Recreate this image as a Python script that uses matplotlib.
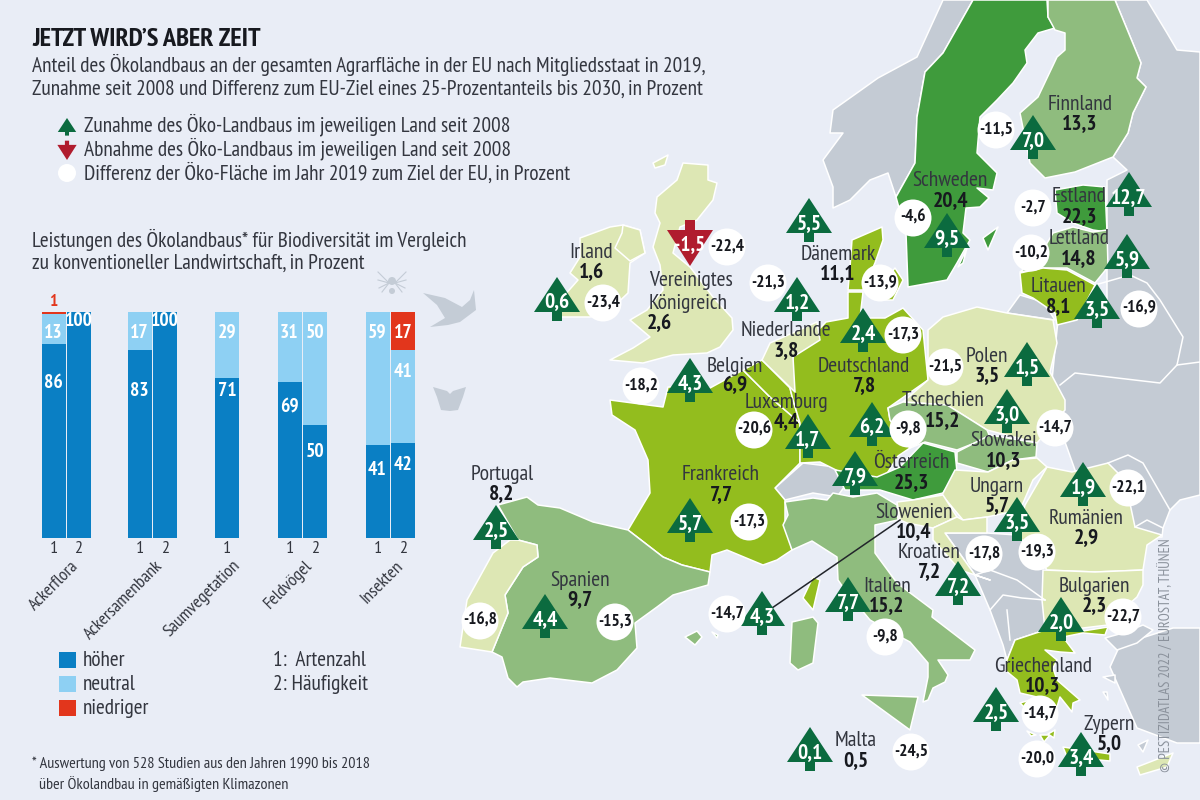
import matplotlib
matplotlib.use("Agg")
import logging
import matplotlib.pyplot as plt
from matplotlib.patches import Polygon, Circle, Rectangle

logging.getLogger('matplotlib.font_manager').setLevel(logging.ERROR)
plt.rcParams['font.family'] = ['PT Sans Narrow', 'Fira Sans Condensed', 'Roboto', 'DejaVu Sans']

BG = '#e9edf6'
GREY = '#c4cbd4'
PALE = '#dde7b4'
LIME = '#93bd1e'
MID = '#8fbc7e'
DARK = '#3f9b3c'
TREE = '#0b6b3f'
RED = '#b01c2e'
TXT = '#33363f'
VAL = '#17191f'

# bar chart values, in percent
groups = ['Ackerflora', 'Ackersamenbank', 'Saumvegetation', 'Feldvögel', 'Insekten']
bar_group = [0, 0, 1, 1, 2, 3, 3, 4, 4]
bar_tick = ['1', '2', '1', '2', '1', '1', '2', '1', '2']
hoeher = [86, 100, 83, 100, 71, 69, 50, 41, 42]
neutral = [13, 0, 17, 0, 29, 31, 50, 59, 41]
niedriger = [1, 0, 0, 0, 0, 0, 0, 0, 17]

# map values, in percent (None: no circle, target already reached)
countries = ['Portugal', 'Spanien', 'Frankreich', 'Irland', 'Vereinigtes\nKönigreich', 'Belgien',
             'Niederlande', 'Luxemburg', 'Dänemark', 'Deutschland', 'Tschechien', 'Österreich',
             'Schweden', 'Finnland', 'Estland', 'Lettland', 'Litauen', 'Polen', 'Slowakei',
             'Ungarn', 'Rumänien', 'Slowenien', 'Kroatien', 'Italien', 'Bulgarien',
             'Griechenland', 'Malta', 'Zypern']
share = [8.2, 9.7, 7.7, 1.6, 2.6, 6.9, 3.8, 4.4, 11.1, 7.8, 15.2, 25.3, 20.4, 13.3, 22.3, 14.8,
         8.1, 3.5, 10.3, 5.7, 2.9, 10.4, 7.2, 15.2, 2.3, 10.3, 0.5, 5.0]
change = [2.5, 4.4, 5.7, 0.6, -1.5, 4.3, 1.2, 1.7, 5.5, 2.4, 6.2, 7.9, 9.5, 7.0, 12.7, 5.9,
          3.5, 1.5, 3.0, 3.5, 1.9, 4.3, 7.2, 7.7, 2.0, 2.5, 0.1, 3.4]
gap = [-16.8, -15.3, -17.3, -23.4, -22.4, -18.2, -21.3, -20.6, -13.9, -17.3, -9.8, None, -4.6,
       -11.5, -2.7, -10.2, -16.9, -21.5, -14.7, -19.3, -22.1, -14.7, -17.8, -9.8, -22.7, -14.7,
       -24.5, -20.0]

# layout in pixels: label centre, tree tip, circle centre
label_xy = [(502, 474), (580, 580), (721, 475), (591, 253), (649, 292), (735, 366), (786, 331),
            (786, 402), (838, 254), (864, 366), (943, 401), (911, 463), (950, 181), (1080, 104),
            (1079, 197), (1079, 239), (1059, 287), (987, 356), (1004, 441), (997, 486),
            (1086, 518), (914, 512), (929, 552), (887, 586), (1094, 586), (1043, 666), (856, 741),
            (1109, 724)]
tree_xy = [(496, 505), (545, 594), (690, 498), (557, 277), (690, 266), (690, 358), (797, 277),
           (808, 414), (809, 198), (863, 308), (872, 402), (855, 451), (947, 213), (1033, 115),
           (1129, 172), (1127, 234), (1097, 284), (1027, 342), (1007, 389), (1017, 497),
           (1083, 462), (762, 591), (958, 561), (848, 577), (1061, 597), (996, 687), (810, 727),
           (1081, 732)]
circle_xy = [(480, 621), (615, 622), (749, 522), (603, 303), (727, 247), (641, 386), (768, 283),
             (754, 430), (880, 283), (903, 335), (908, 429), None, (913, 218), (996, 130),
             (1033, 208), (1031, 253), (1139, 309), (945, 367), (1055, 428), (1037, 552),
             (1128, 488), (727, 614), (984, 554), (885, 637), (1123, 617), (1040, 714), (911, 752),
             (1037, 759)]

# country outlines, traced in pixels
shapes = [
    (GREY, [(943, 0), (917, 57), (878, 78), (833, 110), (830, 133), (843, 133), (823, 160), (833, 187),
            (833, 208), (850, 200), (870, 180), (888, 173), (896, 197), (915, 163), (917, 117), (925, 72),
            (943, 53), (973, 0)]),
    (GREY, [(1115, 0), (1147, 0), (1167, 33), (1177, 50), (1200, 52), (1200, 495), (1180, 500), (1170, 510),
            (1163, 528), (1162, 537), (1100, 540), (1050, 400), (1060, 300), (1107, 300), (1107, 180),
            (1127, 170), (1113, 157), (1128, 133), (1133, 113), (1146, 87), (1137, 78), (1141, 63)]),
    (GREY, [(1007, 313), (1020, 295), (1043, 302), (1055, 320)]),
    (GREY, [(945, 533), (987, 533), (1017, 535), (1037, 555), (1047, 570), (1045, 600), (1045, 630),
            (1015, 640), (1007, 660), (1003, 645), (990, 610), (975, 575)]),
    (GREY, [(1110, 667), (1120, 645), (1173, 628), (1200, 628), (1200, 743), (1177, 743), (1137, 728)]),
    (GREY, [(1105, 638), (1123, 633), (1143, 625), (1153, 630), (1137, 643), (1117, 650)]),
    (GREY, [(1103, 677), (1115, 675), (1115, 683)]),
    (GREY, [(1103, 692), (1107, 692), (1108, 700)]),
    (GREY, [(1138, 745), (1148, 740), (1143, 752)]),
    (GREY, [(775, 488), (803, 463), (835, 467), (847, 483), (837, 497), (813, 493), (785, 500)]),
    (DARK, [(973, 0), (1047, 0), (1048, 17), (1055, 28), (1038, 33), (1025, 50), (1027, 63), (1013, 83),
            (997, 100), (980, 117), (977, 153), (997, 173), (993, 190), (977, 188), (989, 198), (980, 207),
            (966, 208), (963, 233), (970, 240), (957, 263), (947, 280), (908, 287), (906, 233), (896, 197),
            (915, 163), (917, 117), (925, 72), (943, 53)]),
    (DARK, [(983, 238), (998, 227), (988, 250)]),
    (DARK, [(958, 267), (967, 248), (963, 263)]),
    (MID, [(1048, 0), (1115, 0), (1141, 63), (1137, 78), (1146, 87), (1133, 113), (1128, 133), (1113, 157),
           (1075, 172), (1045, 178), (1030, 163), (1020, 113), (1038, 97), (1057, 57), (1065, 50), (1065, 33),
           (1055, 30), (1048, 17)]),
    (DARK, [(1055, 190), (1083, 185), (1105, 187), (1107, 232), (1093, 230), (1073, 223), (1057, 213)]),
    (MID, [(1020, 272), (1040, 255), (1053, 233), (1073, 227), (1093, 232), (1107, 230), (1108, 267),
           (1095, 283), (1067, 268), (1043, 268)]),
    (LIME, [(1020, 273), (1043, 268), (1067, 270), (1095, 285), (1077, 320), (1057, 325), (1055, 313),
            (1033, 298), (1022, 293)]),
    (LIME, [(852, 240), (882, 227), (883, 240), (875, 263), (863, 290), (848, 290), (850, 267)]),
    (LIME, [(878, 290), (895, 268), (903, 280), (893, 300), (880, 300)]),
    (PALE, [(683, 163), (708, 165), (708, 180), (717, 183), (713, 200), (697, 220), (680, 227), (673, 253),
            (690, 267), (713, 297), (732, 318), (733, 330), (720, 347), (707, 353), (673, 355), (643, 363),
            (610, 360), (633, 348), (650, 337), (630, 320), (647, 310), (663, 290), (660, 265), (653, 247),
            (660, 223), (655, 213), (657, 197), (677, 180)]),
    (PALE, [(653, 163), (668, 155), (665, 165), (655, 168)]),
    (PALE, [(580, 238), (610, 227), (623, 225), (640, 230), (645, 253), (630, 263), (628, 293), (607, 313),
            (590, 317), (560, 317), (563, 297), (578, 280), (570, 273), (580, 257)]),
    (PALE, [(623, 225), (640, 230), (645, 253), (630, 261), (615, 248), (622, 233)]),
    (LIME, [(610, 400), (663, 407), (668, 387), (710, 388), (743, 370), (770, 397), (800, 423), (800, 463),
            (775, 488), (785, 500), (785, 520), (792, 550), (777, 560), (763, 565), (727, 550), (712, 555),
            (710, 572), (682, 565), (663, 557), (628, 530), (650, 493), (648, 460), (635, 430), (612, 415)]),
    (LIME, [(743, 370), (762, 360), (790, 388), (793, 400), (800, 423), (770, 397)]),
    (LIME, [(793, 357), (826, 322), (848, 318), (848, 292), (863, 292), (860, 318), (885, 318), (903, 308),
            (923, 330), (925, 350), (928, 380), (888, 408), (890, 420), (910, 448), (898, 456), (878, 488),
            (840, 472), (820, 462), (800, 463), (800, 423), (793, 400), (790, 388)]),
    (PALE, [(762, 360), (770, 343), (817, 322), (820, 340), (793, 357), (795, 392)]),
    (PALE, [(928, 330), (943, 317), (977, 307), (1007, 313), (1053, 320), (1057, 343), (1050, 372), (1065, 400),
            (1065, 410), (1037, 443), (987, 430), (960, 413), (947, 405), (903, 402), (928, 380)]),
    (MID, [(888, 408), (903, 402), (947, 405), (960, 413), (987, 430), (990, 437), (957, 450), (925, 442),
           (910, 448), (890, 420)]),
    (MID, [(957, 452), (990, 435), (1037, 443), (1036, 457), (1013, 460), (988, 472), (957, 463)]),
    (DARK, [(835, 470), (877, 477), (900, 467), (923, 443), (955, 452), (957, 472), (943, 493), (913, 500),
            (880, 490), (845, 490)]),
    (PALE, [(955, 470), (988, 472), (1013, 460), (1037, 458), (1047, 467), (1033, 480), (1020, 510), (987, 517),
            (963, 520), (942, 495)]),
    (PALE, [(1047, 467), (1072, 472), (1108, 463), (1125, 480), (1135, 527), (1162, 535), (1147, 545),
            (1143, 570), (1095, 572), (1047, 570), (1037, 555), (1017, 535), (1025, 505)]),
    (PALE, [(897, 502), (913, 500), (943, 495), (957, 517), (933, 528), (907, 523), (900, 520)]),
    (PALE, [(933, 528), (957, 517), (963, 520), (987, 517), (987, 533), (945, 533), (975, 575), (990, 580),
            (960, 570), (933, 540)]),
    (PALE, [(1043, 570), (1095, 572), (1143, 570), (1143, 585), (1137, 597), (1120, 612), (1108, 625),
            (1083, 628), (1063, 630), (1045, 630), (1042, 600)]),
    (MID, [(785, 502), (813, 498), (827, 500), (833, 493), (853, 497), (877, 493), (897, 505), (898, 520),
           (875, 525), (875, 553), (897, 583), (933, 610), (932, 617), (975, 650), (970, 660), (938, 660),
           (948, 675), (945, 682), (933, 688), (928, 700), (923, 702), (928, 677), (928, 663), (910, 642),
           (893, 633), (870, 620), (845, 590), (838, 580), (837, 557), (812, 541), (792, 550), (783, 525),
           (788, 515)]),
    (MID, [(862, 695), (918, 697), (910, 730)]),
    (MID, [(792, 622), (813, 617), (818, 623), (813, 663), (798, 670), (790, 663)]),
    (LIME, [(813, 577), (820, 580), (813, 610), (803, 598)]),
    (MID, [(498, 505), (527, 497), (538, 505), (560, 508), (593, 522), (628, 530), (663, 557), (682, 565),
           (710, 572), (708, 585), (673, 595), (657, 607), (635, 623), (637, 648), (617, 670), (592, 683),
           (550, 678), (523, 682), (517, 687), (508, 678), (502, 657), (492, 652), (508, 613), (505, 595),
           (523, 567), (538, 557), (537, 545), (518, 540)]),
    (PALE, [(510, 540), (518, 540), (537, 545), (538, 557), (523, 567), (505, 595), (508, 613), (492, 652),
            (460, 647), (467, 600), (493, 553)]),
    (MID, [(685, 637), (697, 631), (702, 637), (695, 645)]),
    (MID, [(712, 632), (718, 635), (717, 638)]),
    (LIME, [(1015, 640), (1045, 630), (1083, 631), (1108, 627), (1105, 635), (1083, 633), (1063, 637), (1075, 653),
            (1060, 652), (1045, 650), (1057, 660), (1053, 668), (1057, 680), (1080, 700), (1073, 703), (1072, 712),
            (1060, 697), (1057, 707), (1037, 697), (1020, 693), (1017, 680), (1005, 670), (1007, 660)]),
    (LIME, [(1020, 703), (1030, 700), (1025, 708)]),
    (LIME, [(1027, 731), (1036, 735), (1031, 736)]),
    (LIME, [(1040, 735), (1050, 735), (1044, 742)]),
    (LIME, [(1048, 734), (1055, 730), (1054, 738)]),
    (LIME, [(1063, 747), (1110, 754), (1110, 761), (1067, 757)]),
    (PALE, [(1137, 767), (1173, 753), (1167, 767), (1140, 775)]),
]

border_lines = [
    [(1060, 385), (1075, 373), (1160, 383), (1177, 365), (1200, 362)],
    [(1095, 285), (1130, 275), (1147, 283), (1160, 300), (1183, 337), (1177, 365)],
    [(1108, 463), (1128, 455), (1143, 463), (1170, 510)],
    [(1135, 527), (1147, 520), (1163, 528)],
    [(975, 575), (990, 570), (1017, 580), (1045, 600)],
    [(990, 610), (1003, 595), (1022, 598), (1045, 600)],
    [(1010, 640), (1007, 610)],
]

BODY = 15.4
NAME = 15.5
VALUE = 15.5


def tree(ax, x, y, s=1.0, color=TREE):
    w, h, tw, th = 23 * s, 35 * s, 5 * s, 9 * s
    ax.add_patch(Polygon([(x, y), (x + w, y + h), (x + tw, y + h), (x + tw, y + h + th), (x - tw, y + h + th),
                          (x - tw, y + h), (x - w, y + h)], fc=color, ec='none', zorder=6))


def arrow_down(ax, x, y, s=1.0, color=RED):
    w, h, tw, th = 23 * s, 36 * s, 5 * s, 10 * s
    ax.add_patch(Polygon([(x, y), (x + w, y - h), (x + tw, y - h), (x + tw, y - h - th), (x - tw, y - h - th),
                          (x - tw, y - h), (x - w, y - h)], fc=color, ec='none', zorder=6))


def comma(v):
    return f'{v:.1f}'.replace('.', ',')


fig = plt.figure(figsize=(12, 8), dpi=100, facecolor=BG)
ax = fig.add_axes([0, 0, 1, 1])
ax.set_xlim(0, 1200)
ax.set_ylim(800, 0)
ax.axis('off')

# map
for col, pts in shapes:
    ax.add_patch(Polygon(pts, fc=col, ec='white', lw=1.1, joinstyle='round', zorder=2))
for pts in border_lines:
    ax.plot([p[0] for p in pts], [p[1] for p in pts], color='white', lw=1.1, zorder=2.5)
ax.plot([772, 900], [608, 520], color='#22252b', lw=1.1, zorder=3)

for i, name in enumerate(countries):
    lx, ly = label_xy[i]
    if '\n' in name:
        ax.text(lx, ly, name, ha='left', va='center', fontsize=NAME, color=TXT, linespacing=1.3, zorder=5)
        ax.text(lx + 10, ly + 32, comma(share[i]), ha='center', va='center', fontsize=VALUE, weight='bold', color=VAL, zorder=5)
    else:
        ax.text(lx, ly, name, ha='center', va='center', fontsize=NAME, color=TXT, zorder=8)
        ax.text(lx, ly + 20, comma(share[i]), ha='center', va='center', fontsize=VALUE, weight='bold', color=VAL, zorder=8)

    tx, ty = tree_xy[i]
    if change[i] < 0:
        arrow_down(ax, tx, ty)
        ax.text(tx, ty - 21, comma(change[i]), ha='center', va='center', fontsize=15, weight='bold', color='white', zorder=7)
    else:
        tree(ax, tx, ty)
        ax.text(tx, ty + 26, comma(change[i]), ha='center', va='center', fontsize=VALUE, weight='bold', color='white', zorder=7)

    if gap[i] is not None:
        cx, cy = circle_xy[i]
        ax.add_patch(Circle((cx, cy), 18.5, fc='white', ec='none', zorder=7))
        ax.text(cx, cy, comma(gap[i]), ha='center', va='center', fontsize=12.5, weight='bold', color=VAL, zorder=9)

# header
ax.text(32, 40, 'JETZT WIRD’S ABER ZEIT', fontsize=19, weight='bold', color='#17191f', va='center')
ax.text(32, 65, 'Anteil des Ökolandbaus an der gesamten Agrarfläche in der EU nach Mitgliedsstaat in 2019,',
        fontsize=BODY, color=TXT, va='center')
ax.text(32, 89, 'Zunahme seit 2008 und Differenz zum EU-Ziel eines 25-Prozentanteils bis 2030, in Prozent',
        fontsize=BODY, color=TXT, va='center')

# map legend
tree(ax, 67, 118, s=0.4)
arrow_down(ax, 67, 160, s=0.42)
ax.add_patch(Circle((67, 173), 9, fc='white', ec='none'))
ax.text(84, 125, 'Zunahme des Öko-Landbaus im jeweiligen Land seit 2008', fontsize=BODY, color=TXT, va='center')
ax.text(84, 149, 'Abnahme des Öko-Landbaus im jeweiligen Land seit 2008', fontsize=BODY, color=TXT, va='center')
ax.text(84, 173, 'Differenz der Öko-Fläche im Jahr 2019 zum Ziel der EU, in Prozent', fontsize=BODY, color=TXT, va='center')

# bar chart
ax.text(32, 240, 'Leistungen des Ökolandbaus* für Biodiversität im Vergleich', fontsize=BODY, color=TXT, va='center')
ax.text(32, 263, 'zu konventioneller Landwirtschaft, in Prozent', fontsize=BODY, color=TXT, va='center')

bar_ax = fig.add_axes([0, 1 - 538 / 800, 1, 226 / 800], facecolor='none')
bar_ax.set_xlim(0, 1200)
bar_ax.set_ylim(0, 100)
bar_ax.axis('off')
bar_x = [53.5, 78.5, 139.5, 165, 227, 289.5, 315, 377.5, 403]
hoeher_label_y = [383, 321, 391, 321, 391, 407, 452, 470, 465]
neutral_label_y = [333, 0, 333, 0, 333, 333, 333, 333, 372]
BLUE, LIGHT, ORANGE = '#0a7fc4', '#8ed0f3', '#e2361c'
for i in range(len(bar_x)):
    bar_ax.bar(bar_x[i], hoeher[i], width=24, color=BLUE)
    bar_ax.bar(bar_x[i], neutral[i], width=24, bottom=hoeher[i], color=LIGHT)
    bar_ax.bar(bar_x[i], niedriger[i], width=24, bottom=hoeher[i] + neutral[i], color=ORANGE)
    bar_ax.annotate(str(hoeher[i]), (bar_x[i], 0), xycoords='data', xytext=(bar_x[i], 1 - hoeher_label_y[i] / 800),
                    textcoords=('data', 'figure fraction'), ha='center', va='center', fontsize=14,
                    weight='bold', color='white')
    if neutral[i]:
        bar_ax.annotate(str(neutral[i]), (bar_x[i], 0), xycoords='data', xytext=(bar_x[i], 1 - neutral_label_y[i] / 800),
                        textcoords=('data', 'figure fraction'), ha='center', va='center', fontsize=14,
                        weight='bold', color='white')
    if niedriger[i] > 1:
        bar_ax.annotate(str(niedriger[i]), (bar_x[i], 0), xycoords='data', xytext=(bar_x[i], 1 - 333 / 800),
                        textcoords=('data', 'figure fraction'), ha='center', va='center', fontsize=14,
                        weight='bold', color='white')
    ax.text(bar_x[i], 549, bar_tick[i], ha='center', va='center', fontsize=13, color=TXT)
ax.text(53, 302, '1', ha='center', va='center', fontsize=12.5, weight='bold', color=ORANGE)
group_end = [71, 155, 232, 305, 395]
for g, name in enumerate(groups):
    ax.text(group_end[g], 558, name, rotation=45, rotation_mode='anchor', ha='right', va='top',
            fontsize=13, color=TXT)

# small animal icons
ICON = '#c4ccd6'
ax.add_patch(Polygon([(423, 293), (445, 298), (462, 307), (470, 300), (474, 290), (476, 310), (460, 322),
                      (448, 325), (430, 327), (445, 318), (437, 305)], fc=ICON, ec='none'))
ax.add_patch(Polygon([(433, 387), (447, 391), (450, 394), (453, 391), (466, 387), (463, 397), (458, 410),
                      (450, 411), (441, 410), (437, 397)], fc=ICON, ec='none'))
ax.add_patch(Circle((392, 281), 4, fc=ICON, ec='none'))
ax.add_patch(Circle((392, 291), 3, fc=ICON, ec='none'))
for dx, dy1, dy2 in [(14, 272, 268), (14, 280, 280), (13, 288, 296), (10, 292, 304)]:
    ax.plot([392 - dx, 392 - 3], [dy1, 283], color=ICON, lw=0.8)
    ax.plot([392 + dx, 392 + 3], [dy1, 283], color=ICON, lw=0.8)

# bar legend
for y, col, lab in zip([660, 684, 708], [BLUE, LIGHT, ORANGE], ['höher', 'neutral', 'niedriger']):
    ax.add_patch(Rectangle((59, y - 8), 17, 16, fc=col, ec='none'))
    ax.text(83, y, lab, fontsize=BODY, color=TXT, va='center')
ax.text(273, 660, '1:  Artenzahl', fontsize=BODY, color=TXT, va='center')
ax.text(273, 684, '2: Häufigkeit', fontsize=BODY, color=TXT, va='center')

# footnote and source
ax.text(32, 764, '* Auswertung von 528 Studien aus den Jahren 1990 bis 2018', fontsize=11.6, color=TXT, va='center')
ax.text(39, 784, 'über Ökolandbau in gemäßigten Klimazonen', fontsize=11.6, color=TXT, va='center')
ax.text(1166, 772, '© PESTIZIDATLAS 2022 / EUROSTAT, THÜNEN', rotation=90, ha='center', va='bottom',
        fontsize=10.5, color='#8b929c', zorder=9)

fig.savefig('out.png', dpi=100, facecolor=BG)
